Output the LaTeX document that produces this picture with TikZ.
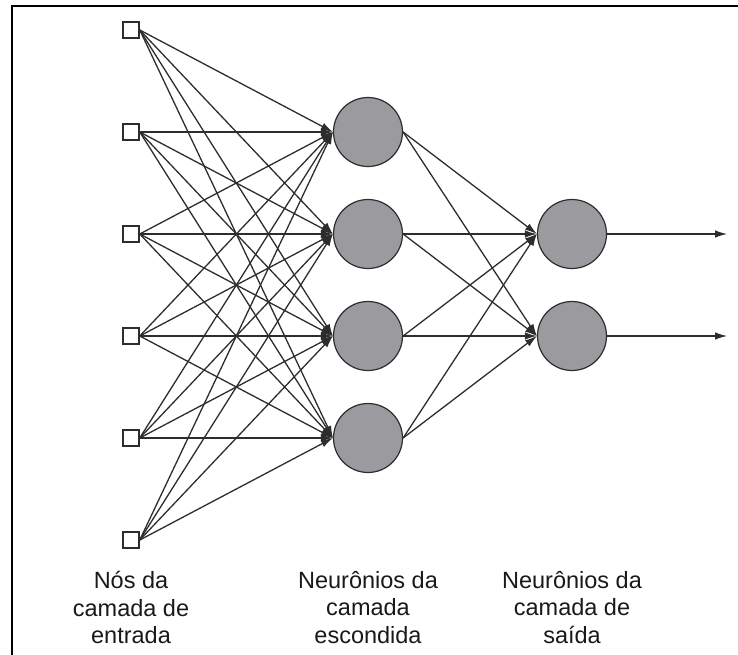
\documentclass[tikz,border=0pt]{standalone}
\usepackage{fontspec}
\setmainfont{Liberation Sans}
\usetikzlibrary{matrix,positioning,arrows.meta}
\definecolor{neurongray}{RGB}{155,155,159}
\definecolor{linegray}{RGB}{45,45,45}

\begin{document}
\begin{tikzpicture}[
      x=1pt,
      y=-1pt,
      plain/.style={
          draw=none,
          fill=none,
        },
      inpnode/.style={
          draw=linegray,
          fill=white,
          rectangle,
          line width=1.5pt,
          minimum size=16pt,
          inner sep=0pt
        },
      net/.style={
          matrix of nodes,
          nodes={
              draw=linegray,
              fill=neurongray,
              circle,
              line width=1.2pt,
              minimum size=69pt,
              inner sep=0pt
            },
          column 1/.style={nodes={inpnode}},
          nodes in empty cells,
          column sep={204pt,between origins},
          row sep={102pt,between origins}
        },
      conn/.style={
          draw=linegray,
          line width=1.3pt
        },
      lbl/.style={
          align=center,
          text=black!90,
          font=\fontsize{23.5}{27.5}\selectfont,
          inner sep=0pt,
          anchor=north
        },
      >={Latex[length=12pt,width=7.5pt]}
    ]
    \useasboundingbox (0,0) rectangle (738,655);
    \draw[line width=2pt] (12,655) -- (12,6) -- (738,6);
    \matrix[net, matrix anchor=mat-1-1.center] (mat) at (131,30)
    {
    &[33pt] |[plain]| & |[plain]| \\
    & & |[plain]| \\
    & & \\
    & & \\
    & & |[plain]| \\
    & |[plain]| & |[plain]| \\    };
    \foreach \ai in {1,...,6}
      {\foreach \aii in {2,...,5}
        \draw[conn,->] (mat-\ai-1.east) -- (mat-\aii-2.west);
      }
    \foreach \ai in {2,...,5}
      {\foreach \aii in {3,4}
        \draw[conn,->] (mat-\ai-2.east) -- (mat-\aii-3.west);
      }
    \foreach \ai in {3,4}
      {\coordinate (out\ai) at ([xshift=120pt]mat-\ai-3.east);
       \draw[conn,->] (mat-\ai-3.east) -- (out\ai);
      }
    \node[lbl] (lblin) at (mat-6-1 |- 0,571) {Nós da\\camada de\\entrada};
    \node[lbl] (lblhid) at (mat-6-2 |- 0,571) {Neurônios da\\camada\\escondida};
    \node[lbl] (lblout) at (mat-6-3 |- 0,571) {Neurônios da\\camada de\\saída};
  \end{tikzpicture}
\end{document}
